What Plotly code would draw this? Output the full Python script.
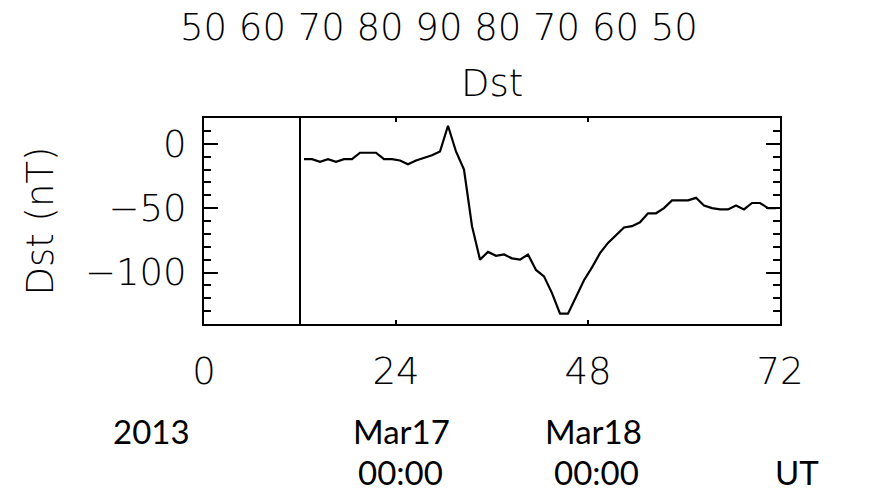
import plotly.graph_objects as go

# Hourly Dst index (nT), hourly means stamped at the middle of each hour,
# hours counted from 2013-03-16 00:00 UT
hours = [h + 0.5 for h in range(12, 72)]
dst = [
    -12, -12, -14, -12, -14, -12, -12, -7, -7, -7,
    -12, -12, -13, -16, -13, -11, -9, -6, 14, -6,
    -20, -64, -90, -84, -87, -86, -89, -90, -86, -98,
    -103, -116, -132, -132, -119, -106, -96, -85, -77, -71,
    -65, -64, -61, -54, -54, -50, -44, -44, -44, -42,
    -48, -50, -51, -51, -48, -51, -46, -46, -50, -50,
]

data_start = 12          # hour at which the record begins
x_ticks = [0, 24, 48, 72]
y_ticks = [0, -50, -100]
x_range = [0, 72]
y_range = [-140, 20]

top_numbers = ["50", "60", "70", "80", "90", "80", "70", "60", "50"]
title_text = "Dst"
y_title = "Dst (nT)"
date_row1 = [("2013", 151), ("Mar17", 401), ("Mar18", 593)]
date_row2 = [("00:00", 400), ("00:00", 596), ("UT", 797)]

W, H = 871, 491
L, R, T, B = 204, 91, 118, 167
PW, PH = W - L - R, H - T - B

IDL_FONT = dict(family="DejaVu Sans", size=37, color="black", weight=200)
DATE_FONT = dict(family="Lato, Carlito, Open Sans, sans-serif", size=33,
                 color="black", weight=400)


def px_x(px):
    return (px - L) / PW


def px_y(py):
    return (H - B - py) / PH


fig = go.Figure()
fig.add_trace(go.Scatter(
    x=hours, y=dst, mode="lines",
    line=dict(color="black", width=2.2),
    showlegend=False, hoverinfo="skip",
))

# marker for the start of the record
fig.add_shape(type="line", xref="x", yref="paper",
              x0=data_start, x1=data_start, y0=0, y1=1,
              line=dict(color="black", width=2))

fig.update_xaxes(
    range=x_range, tickvals=x_ticks, ticks="inside", ticklen=4, tickwidth=2,
    tickcolor="black", showline=True, linecolor="black", linewidth=2,
    mirror="ticks", showgrid=False, zeroline=False,
    tickfont=IDL_FONT, ticklabelstandoff=14,
)
fig.update_yaxes(
    range=y_range, tickvals=y_ticks, ticks="inside", ticklen=14, tickwidth=2,
    tickcolor="black", showline=True, linecolor="black", linewidth=2,
    mirror="ticks", showgrid=False, zeroline=False,
    tickfont=IDL_FONT, ticklabelstandoff=8,
    minor=dict(dtick=10, ticks="inside", ticklen=7, tickwidth=2,
               tickcolor="black", showgrid=False),
    title=dict(text=y_title, font=IDL_FONT, standoff=20),
)

annotations = [
    dict(text=" ".join(top_numbers), x=px_x(439), y=px_y(27),
         font=IDL_FONT),
    dict(text=title_text, x=px_x(492), y=px_y(83), font=IDL_FONT),
]
for label, cx in date_row1:
    annotations.append(dict(text=label, x=px_x(cx), y=px_y(431), font=DATE_FONT))
for label, cx in date_row2:
    annotations.append(dict(text=label, x=px_x(cx), y=px_y(472), font=DATE_FONT))
for a in annotations:
    a.update(xref="paper", yref="paper", showarrow=False,
             xanchor="center", yanchor="middle")

fig.update_layout(
    width=W, height=H,
    margin=dict(l=L, r=R, t=T, b=B),
    paper_bgcolor="white", plot_bgcolor="white",
    annotations=annotations,
)

fig.write_html("out.html")
